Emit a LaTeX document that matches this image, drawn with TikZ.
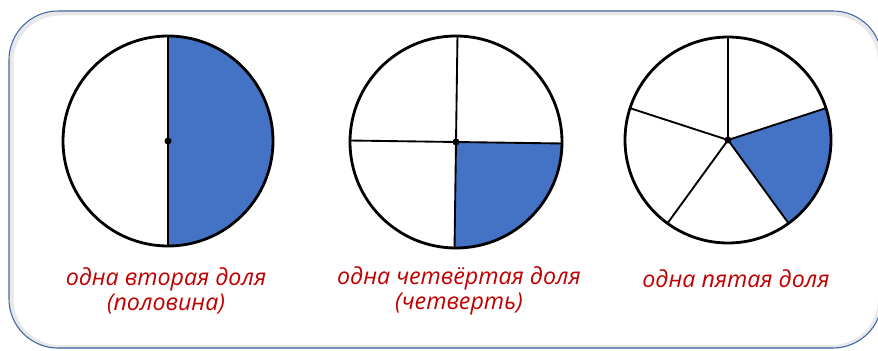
\documentclass[tikz,border=0pt]{standalone}
\usepackage{fontspec}
\setmainfont{Open Sans}
\usetikzlibrary{positioning}
\definecolor{sliceblue}{HTML}{4472C4}
\definecolor{labelred}{HTML}{C00000}
\definecolor{frameblue}{HTML}{3F64A6}

\begin{document}
\begin{tikzpicture}[x=0.75pt,y=0.75pt,
      rim/.style={draw=black,line width=2.1pt},
      spoke/.style={draw=black,line width=1.4pt},
      slice/.style={fill=sliceblue},
      hub/.style={fill=black},
      lbl/.style={text=labelred,font=\itshape\fontsize{17.4}{18.75}\selectfont,align=center,inner sep=0pt}]
    \useasboundingbox (0,0) rectangle (878,350);
    % frame with a soft inner shadow
    \draw[gray!18,line width=3pt,rounded corners=36pt] (11.5,3) rectangle (880,336.5);
    \draw[frameblue,line width=0.8pt,rounded corners=36.75pt] (9,2) rectangle (882,339);
    % one half
    \coordinate (half) at (168,209);
    \fill[slice] (half) -- ++(90:105) arc[start angle=90,end angle=-90,radius=105] -- cycle;
    \draw[spoke] (half) -- ++(90:105) (half) -- ++(-90:105);
    \draw[rim] (half) circle[radius=105];
    \fill[hub] (half) circle[radius=3.5];
    % one quarter
    \coordinate (quarter) at (456,208);
    \fill[slice] (quarter) -- ++(-0.8:106) arc[start angle=-0.8,end angle=-90.8,radius=106] -- cycle;
    \foreach \a in {-0.8,89.2,179.2,269.2} {
      \draw[spoke] (quarter) -- ++(\a:106);
    }
    \draw[rim] (quarter) circle[radius=106];
    \fill[hub] (quarter) circle[radius=3.5];
    % one fifth
    \coordinate (fifth) at (728,210);
    \fill[slice] (fifth) -- ++(18:103) arc[start angle=18,end angle=-54,radius=103] -- cycle;
    \foreach \a in {90,18,-54,-126,162} {
      \draw[spoke] (fifth) -- ++(\a:103);
    }
    \draw[rim] (fifth) circle[radius=103];
    \fill[hub] (fifth) circle[radius=3.5];
    % labels
    \node[lbl] (halftext) at (166,59) {одна вторая доля\\(половина)};
    \node[lbl] (quartertext) at (459,59) {одна четвёртая доля\\(четверть)};
    \node[lbl] (fifthtext) at (736,71) {одна пятая доля};
  \end{tikzpicture}
\end{document}
